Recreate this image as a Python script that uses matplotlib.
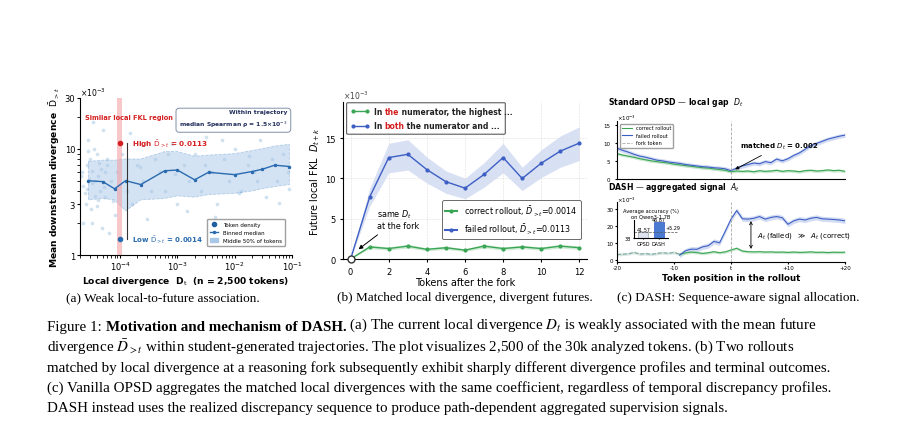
import numpy as np
import matplotlib
matplotlib.use("Agg")
import matplotlib.pyplot as plt
from matplotlib.lines import Line2D
from matplotlib.patches import Patch

# ---------------- data ----------------
# panel (a)
scatter_x = [2.2e-5,2.5e-5,2.8e-5,3e-5,3.3e-5,3.6e-5,4e-5,4.4e-5,5e-5,5.5e-5,6e-5,7e-5,8e-5,9e-5,1.1e-4,1.3e-4,1.6e-4,2e-4,2.5e-4,3e-4,4e-4,5e-4,6e-4,8e-4,1e-3,1.3e-3,1.6e-3,2e-3,2.6e-3,3.2e-3,4e-3,5e-3,6.5e-3,8e-3,1e-2,1.3e-2,1.7e-2,2.2e-2,2.8e-2,3.5e-2,4.5e-2,5.5e-2,7e-2,8.5e-2,
             2.3e-5,2.7e-5,3.1e-5,3.5e-5,4.2e-5,4.8e-5,5.8e-5,7.5e-5,1.5e-4,3.5e-4,7e-4,1.5e-3,3e-3,6e-3,1.2e-2,2.5e-2,5e-2,9e-2,
             2.4e-5,2.9e-5,3.4e-5,3.9e-5,4.6e-5,5.2e-5,6.5e-5,2.2e-4,9e-4,4.5e-3,1.8e-2,6e-2,
             2.1e-5,2.6e-5,3.2e-5,3.7e-5,4.3e-5,2.3e-5,2.8e-5,3.3e-5,4.1e-5,5.4e-5]
scatter_y = [6,3,12,8,2,5,9,4,15,3.5,7,5,2.4,6,9,4,3,7,5,2.2,8,6,4,11,3,7,5,9,4,13,6,3,8,5,10,4,7,6,12,3.5,8,5,9,6,
             4.5,7,2.7,10,5.5,1.8,8,3.2,14,4,9,2.6,7,12,3.8,5,16,4.2,
             3.8,5.2,18,2.9,6.5,4.4,1.6,6.8,5.8,2.3,8.5,3.1,
             5.5,4.2,6.2,3.6,7.4,2.0,9.5,4.8,3.3,6.0]
median_x = [2.8e-5,5e-5,8e-5,1.25e-4,2.3e-4,6e-4,1e-3,2e-3,3.5e-3,1e-2,2e-2,3e-2,5e-2,9e-2]
median_y = [5.0,4.9,4.2,5.0,4.6,6.2,6.3,5.1,6.0,5.7,6.1,6.4,7.0,6.8]
band_lo = [3.3,3.4,3.3,2.6,3.3,3.4,3.6,3.5,3.7,3.8,4.0,4.2,4.4,4.6]
band_hi = [7.6,7.8,7.8,8.0,8.0,9.4,9.4,8.5,8.7,9.0,9.6,10.0,10.6,11.0]
high_val, low_val, fork_x = 11.3, 1.4, 1.0e-4

# panel (b)
tokens = list(range(13))
correct_b = [0,1.5,1.3,1.6,1.2,1.4,1.1,1.6,1.3,1.5,1.3,1.6,1.4]
failed_b = [0,7.7,12.6,13.0,11.1,9.6,8.8,10.5,12.6,10.0,11.9,13.4,14.4]

# panel (c)
pos = list(range(-20, 21))
gap_correct = [7.0,6.6,6.3,6.0,5.6,5.3,5.0,4.8,4.6,4.4,4.1,3.9,3.7,3.5,3.3,3.1,3.0,2.8,2.6,2.4,2.0,
               2.2,2.1,2.2,2.0,2.3,2.1,2.2,2.4,2.1,2.3,2.2,2.0,2.3,2.4,2.2,2.3,2.5,2.3,2.4,2.1]
gap_failed = [8.5,7.9,7.4,6.8,6.3,6.0,5.6,5.2,5.0,4.7,4.5,4.3,4.0,3.8,3.6,3.4,3.3,3.1,3.0,2.8,2.3,
              3.0,3.6,4.0,4.4,4.2,4.8,4.5,5.5,5.0,5.6,6.5,7.2,8.2,9.2,9.8,10.4,11.0,11.4,11.8,12.1]
agg_pre_x = list(range(-20, -8))
agg_pre = [3.3,3.6,3.8,4.6,3.6,3.9,3.5,4.0,4.4,4.1,4.6,3.5]
agg_x = list(range(-9, 21))
agg_correct = [3.5,4.3,4.8,4.5,4.0,4.4,5.0,4.4,4.9,6.0,7.0,5.4,5.0,4.9,5.0,4.8,4.9,4.7,4.8,4.6,4.8,4.6,4.7,4.9,4.6,4.7,4.5,4.7,4.6,4.7]
agg_failed = [3.0,5.5,6.5,6.4,7.8,8.5,11.0,10.2,17.0,24.0,29.0,24.2,24.0,24.5,25.5,24.0,25.0,25.5,24.8,21.0,23.0,24.0,23.5,24.5,25.0,24.2,24.0,23.8,23.5,23.0]
inset_labels = ["OPSD", "DASH"]
inset_vals = [41.57, 46.87]

GREEN = "#3aa655"
BLUE = "#3d5fc4"
plt.rcParams["font.family"] = ["DejaVu Sans"]
fig = plt.figure(figsize=(9.02, 4.35), dpi=100)
W, H = 902, 435
def rect(x0, y0, x1, y1):
    return [x0 / W, 1 - y1 / H, (x1 - x0) / W, (y1 - y0) / H]

# ---------------- panel (a) ----------------
ax = fig.add_axes(rect(80, 99, 292, 256))
ax.set_xscale("log"); ax.set_yscale("log")
ax.set_xlim(2e-5, 1e-1); ax.set_ylim(1, 30)
ax.scatter(scatter_x, scatter_y, s=7, color="#7aaad6", alpha=0.35, lw=0)
ax.fill_between(median_x, band_lo, band_hi, color="#a9c8e8", alpha=0.5, lw=0.6, edgecolor="#7aa6d6", linestyle="--")
ax.plot(median_x, median_y, color="#2a6bb0", lw=1.0, marker="o", ms=1.5)
ax.axvspan(0.9e-4, 1.1e-4, color="#f2a3a8", alpha=0.6, lw=0)
ax.plot([fork_x], [high_val], "o", color="#d42020", ms=3)
ax.plot([fork_x], [low_val], "o", color="#2a6bb0", ms=3)
ax.plot([1.3e-4, 1.3e-4], [low_val, high_val], color="#333", lw=0.8)
ax.text(1.6e-4, high_val, r"High $\bar{\rm D}_{>t}$ = 0.0113", color="#d42020", fontsize=5.2, fontweight="bold", va="center")
ax.text(1.6e-4, low_val, r"Low $\bar{\rm D}_{>t}$ = 0.0014", color="#2a6bb0", fontsize=5.0, fontweight="bold", va="center")
ax.text(2.4e-5, 20, "Similar local FKL region", color="#d42020", fontsize=4.8, fontweight="bold", va="center")
ax.text(0.98, 0.93, "Within trajectory\nmedian Spearman ρ = 1.5×10$^{-3}$", transform=ax.transAxes, ha="right", va="top",
        fontsize=4.3, color="#1f2d5a", fontweight="bold", linespacing=1.7, multialignment="right",
        bbox=dict(boxstyle="round,pad=0.5", fc="white", ec="#8090a8", lw=0.7))
ax.set_yticks([1, 3, 10, 30]); ax.set_yticklabels(["1", "3", "10", "30"])
ax.yaxis.set_minor_formatter(matplotlib.ticker.NullFormatter())
ax.tick_params(labelsize=6, length=2, pad=1.5)
ax.text(0, 1.01, "×10$^{-3}$", transform=ax.transAxes, fontsize=5.5)
ax.set_xlabel(r"Local divergence  D$_{\rm t}$  (n = 2,500 tokens)", fontsize=6.6, fontweight="bold", labelpad=1)
ax.set_ylabel(r"Mean downstream divergence  $\bar{\rm D}_{>t}$", fontsize=6.6, fontweight="bold", labelpad=2)
h = [Line2D([], [], marker="o", ls="", color="#1f5f9f", ms=3),
     Line2D([], [], marker="o", color="#2a6bb0", ms=1.5, lw=1),
     Patch(color="#a9c8e8")]
ax.legend(h, ["Token density", "Binned median", "Middle 50% of tokens"], loc="lower right", bbox_to_anchor=(0.98, 0.04),
          fontsize=4.0, frameon=True, fancybox=True, edgecolor="#888", handlelength=1.5, borderpad=0.6)
for s in ["top", "right"]:
    ax.spines[s].set_visible(False)

# ---------------- panel (b) ----------------
ax = fig.add_axes(rect(343, 103, 587, 260))
ax.fill_between(tokens, np.array(failed_b) * 0.85, np.array(failed_b) * 1.14, color="#c8d3f0", alpha=0.7, lw=0)
ax.fill_between(tokens, np.array(correct_b) * 0.85, np.array(correct_b) * 1.15, color="#bfe3c5", alpha=0.7, lw=0)
ax.plot(tokens, failed_b, color=BLUE, marker="o", ms=2, lw=1)
ax.plot(tokens, correct_b, color=GREEN, marker="o", ms=2, lw=1)
ax.plot([0], [0], "o", mfc="white", mec="#333", ms=5, clip_on=False, zorder=5)
ax.set_xlim(-0.4, 12.4); ax.set_ylim(0, 19.5)
ax.set_xticks(range(0, 13, 2)); ax.set_yticks([0, 5, 10, 15])
ax.grid(True, ls="--", lw=0.4, color="#ddd")
ax.tick_params(labelsize=6, length=2)
for s in ["top", "right"]:
    ax.spines[s].set_visible(False)
ax.text(0, 1.02, "×10$^{-3}$", transform=ax.transAxes, fontsize=5.5, color="#444")
ax.set_xlabel("Tokens after the fork", fontsize=7, labelpad=1)
ax.set_ylabel(r"Future local FKL  $D_{t+k}$", fontsize=7, labelpad=2)
ax.annotate("same $D_t$\nat the fork", xy=(0.3, 1.0), xytext=(1.4, 3.8), fontsize=5.8, ha="left",
            arrowprops=dict(arrowstyle="-|>", color="black", lw=0.7, mutation_scale=6))
lg = ax.legend([Line2D([], [], color=GREEN, marker="o", ms=2), Line2D([], [], color=BLUE, marker="o", ms=2)],
               [r"correct rollout, $\bar{D}_{>t}$=0.0014", r"failed rollout, $\bar{D}_{>t}$=0.0113"],
               loc="lower right", bbox_to_anchor=(0.99, 0.1), fontsize=5.8, edgecolor="#444", fancybox=True, handlelength=1.5)
lg.get_frame().set_linewidth(0.7)
# top-left legend with colored words
ax.add_patch(matplotlib.patches.FancyBboxPatch((0.02, 0.8), 0.64, 0.19, boxstyle="round,pad=0.005", transform=ax.transAxes,
             fc="white", ec="#444", lw=0.7, zorder=5))
for yy, col, parts in [(0.94, GREEN, [("In ", "#222"), ("the", "#d42020"), (" numerator, the highest ...", "#222")]),
                       (0.85, BLUE, [("In ", "#222"), ("both", "#d42020"), (" the numerator and ...", "#222")])]:
    ax.add_line(Line2D([0.04, 0.10], [yy, yy], color=col, marker="o", ms=2, lw=1, transform=ax.transAxes, zorder=6))
    t = ax.text(0.125, yy, parts[0][0], color=parts[0][1], fontsize=5.5, fontweight="bold", va="center", transform=ax.transAxes, zorder=6)
    for txt, c in parts[1:]:
        t = ax.annotate(txt, xy=(1, 0), xycoords=t, color=c, fontsize=5.5, fontweight="bold", va="bottom", zorder=6)

# ---------------- panel (c) top ----------------
ax = fig.add_axes(rect(617, 122, 845, 180))
gc, gf = np.array(gap_correct), np.array(gap_failed)
ax.fill_between(pos, gf - 0.6, gf + 0.6, color="#c8d3f0", alpha=0.8, lw=0)
ax.fill_between(pos, gc - 0.4, gc + 0.4, color="#bfe3c5", alpha=0.8, lw=0)
ax.plot(pos, gc, color=GREEN, lw=0.8, label="correct rollout")
ax.plot(pos, gf, color=BLUE, lw=0.8, label="failed rollout")
ax.axvline(0, color="#aaa", ls="--", lw=0.6, label="fork token")
ax.set_xlim(-20, 20); ax.set_ylim(0, 16)
ax.set_yticks([0, 5, 10, 15]); ax.set_xticks([])
ax.tick_params(labelsize=4, length=1.5)
for s in ["top", "right"]:
    ax.spines[s].set_visible(False)
ax.legend(loc="upper left", fontsize=3.6, handlelength=2, frameon=True, edgecolor="#888")
ax.annotate("matched $D_t$ = 0.002", xy=(0.3, 2.3), xytext=(1.5, 8.5), fontsize=5, fontweight="bold",
            arrowprops=dict(arrowstyle="-|>", color="black", lw=0.6, mutation_scale=5))
ax.text(-21.5, 19.5, "Standard OPSD — local gap  $D_t$", fontsize=5.6, fontweight="bold", va="bottom")
ax.text(-20, 16.2, "×10$^{-3}$", fontsize=4)

# ---------------- panel (c) bottom ----------------
ax = fig.add_axes(rect(617, 203, 845, 263))
ac, af = np.array(agg_correct), np.array(agg_failed)
ax.fill_between(agg_x, af - 1.5, af + 1.5, color="#c8d3f0", alpha=0.8, lw=0)
ax.fill_between(agg_x, ac - 0.8, ac + 0.8, color="#bfe3c5", alpha=0.8, lw=0)
ax.fill_between(agg_pre_x, np.array(agg_pre) - 0.8, np.array(agg_pre) + 0.8, color="#cfe0da", alpha=0.8, lw=0)
ax.plot(agg_pre_x, agg_pre, color="#7aa8a0", lw=0.8, ls="--")
ax.plot(agg_x, ac, color=GREEN, lw=0.8)
ax.plot(agg_x, af, color=BLUE, lw=0.8)
ax.axvline(0, color="#aaa", ls="--", lw=0.6)
ax.set_xlim(-20, 20); ax.set_ylim(-1, 34)
ax.set_yticks([0, 10, 20, 30])
ax.set_xticks([-20, -10, 0, 10, 20]); ax.set_xticklabels(["-20", "-10", "t", "+10", "+20"])
ax.tick_params(labelsize=4, length=1.5, pad=1)
for s in ["top", "right"]:
    ax.spines[s].set_visible(False)
ax.annotate("", xy=(3.5, 24.5), xytext=(3.5, 5), arrowprops=dict(arrowstyle="<->", lw=0.6, color="black", mutation_scale=5))
ax.text(4.5, 15, r"$A_t$ (failed)  $\gg$  $A_t$ (correct)", fontsize=5, va="center")
ax.text(-21.5, 39.5, "DASH — aggregated signal  $A_t$", fontsize=5.6, fontweight="bold", va="bottom")
ax.text(-20, 34.3, "×10$^{-3}$", fontsize=4)
ax.set_xlabel("Token position in the rollout", fontsize=6.2, fontweight="bold", labelpad=2)
ins = fig.add_axes(rect(634, 221, 668, 239))
ins.bar([0, 1], inset_vals, color=["#dfe3ef", "#4a7bd0"], edgecolor=["#9aa", "#35c"], width=0.65, lw=0.5)
ins.axhline(inset_vals[0], color="#555", ls="--", lw=0.5, xmax=1.3, clip_on=False)
ins.set_ylim(38, 48); ins.set_xlim(-0.6, 1.6)
ins.set_yticks([38]); ins.set_xticks([0, 1]); ins.set_xticklabels(inset_labels)
ins.tick_params(labelsize=3.5, length=1, pad=1)
for i, v in enumerate(inset_vals):
    ins.text(i, v + 0.3, f"{v:.2f}", ha="center", fontsize=3.5)
ins.text(1.45, 44, "+5.29", fontsize=3.5, va="center")
ins.set_title("Average accuracy (%)\non Qwen3-1.7B", fontsize=3.7, pad=1.5)
for s in ["top", "right"]:
    ins.spines[s].set_visible(False)

# ---------------- captions ----------------
SERIF = ["Liberation Serif", "DejaVu Serif"]
FS = 10.8
kw = dict(fontsize=FS, family=SERIF, math_fontfamily="stix")
fig.text(163 / W, 1 - 298 / H, "(a) Weak local-to-future association.", ha="center", va="center", fontsize=9.5, family=SERIF)
fig.text(465 / W, 1 - 298 / H, "(b) Matched local divergence, divergent futures.", ha="center", va="center", fontsize=9.5, family=SERIF)
fig.text(738 / W, 1 - 298 / H, "(c) DASH: Sequence-aware signal allocation.", ha="center", va="center", fontsize=9.5, family=SERIF)
t0 = fig.text(47 / W, 1 - 331 / H, "Figure 1: ", va="baseline", **kw)
a1 = fig.add_artist(matplotlib.text.Annotation("Motivation and mechanism of DASH.", xy=(1, 0), xycoords=t0,
                    fontweight="bold", va="bottom", annotation_clip=False, **kw))
fig.add_artist(matplotlib.text.Annotation(r" (a) The current local divergence $D_t$ is weakly associated with the mean future",
               xy=(1, 0), xycoords=a1, va="bottom", annotation_clip=False, **kw))
lines = [r"divergence $\bar{D}_{>t}$ within student-generated trajectories. The plot visualizes 2,500 of the 30k analyzed tokens. (b) Two rollouts",
         "matched by local divergence at a reasoning fork subsequently exhibit sharply different divergence profiles and terminal outcomes.",
         "(c) Vanilla OPSD aggregates the matched local divergences with the same coefficient, regardless of temporal discrepancy profiles.",
         "DASH instead uses the realized discrepancy sequence to produce path-dependent aggregated supervision signals."]
for i, l in enumerate(lines):
    fig.text(47 / W, 1 - (352 + 20 * i) / H, l, va="baseline", **kw)

fig.savefig("out.png", dpi=100)
